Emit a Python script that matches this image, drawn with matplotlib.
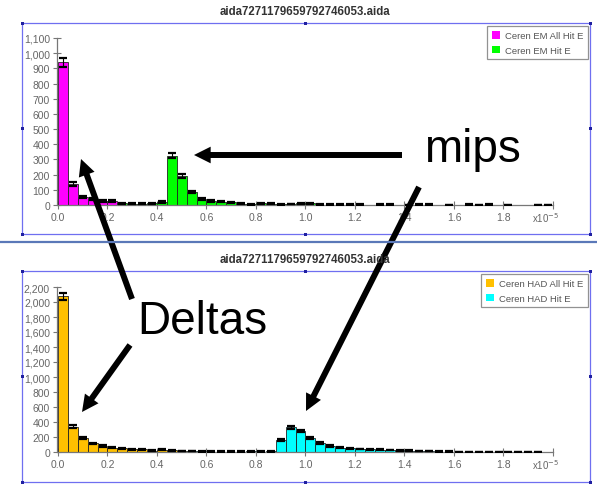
import numpy as np
import matplotlib
matplotlib.use("Agg")
import matplotlib.pyplot as plt
from matplotlib.patches import Rectangle, FancyArrowPatch, ArrowStyle
from matplotlib.lines import Line2D
from matplotlib.ticker import FuncFormatter

plt.rcParams['font.family'] = ['Liberation Sans', 'DejaVu Sans']

# histogram data: 50 bins of width 0.04 (x10^-5) from 0 to 2
bin_width = 0.04
title = "aida7271179659792746053.aida"

em_all_label = "Ceren EM All Hit E"
em_hit_label = "Ceren EM Hit E"
em_all = [940, 140, 55, 42, 28, 25] + [0] * 44
em_hit = [0, 0, 0, 0, 0, 0, 12, 8, 8, 10,
          20, 325, 192, 85, 40, 25, 22, 18, 8, 4,
          10, 8, 4, 6, 10, 12, 3, 2, 3, 3,
          2, 0, 2, 2, 0, 1, 2, 2, 0, 1,
          0, 2, 1, 2, 0, 1, 0, 0, 1, 1]

had_all_label = "Ceren HAD All Hit E"
had_hit_label = "Ceren HAD Hit E"
had_all = [2075, 340, 190, 114, 82, 60, 50, 38, 36, 18,
           32, 22, 14] + [0] * 37
had_hit = [0] * 13 + [10, 8, 6, 5, 5, 6, 8, 6, 8,
                      155, 328, 282, 190, 122, 80, 58, 48, 40, 36,
                      31, 27, 22, 18, 14, 10, 6, 5, 4, 3,
                      3, 2, 2, 2, 1, 2, 1, 0]

W, H = 597, 485
fig = plt.figure(figsize=(W / 100, H / 100), dpi=100)


def fx(x):
    return x / W


def fy(y):
    return 1 - y / H


def draw_panel(top_px, bottom_px, ymax, ystep, series, box):
    ax = fig.add_axes([fx(57), fy(bottom_px), fx(553) - fx(57), fy(top_px) - fy(bottom_px)])
    edges = np.arange(50) * bin_width
    handles = []
    for values, color, label in series:
        values = np.array(values, dtype=float)
        b = ax.bar(edges, values, width=bin_width, align='edge', color=color,
                   edgecolor='#222222', linewidth=0.6, label=label, zorder=2)
        mask = values > 0
        ax.errorbar(edges[mask] + bin_width / 2, values[mask], yerr=np.sqrt(values[mask]),
                    fmt='none', ecolor='black', elinewidth=0.8, capsize=3, capthick=1.6, zorder=3)
        handles.append(b)
    ax.set_xlim(-0.004, 2.0)
    ax.set_ylim(0, ymax)
    ax.set_xticks(np.arange(0, 2.01, 0.2))
    ax.set_yticks(np.arange(0, ymax + 1, ystep))
    ax.xaxis.set_major_formatter(FuncFormatter(lambda v, p: "" if v > 1.9 else f"{v:.1f}"))
    ax.yaxis.set_major_formatter(FuncFormatter(lambda v, p: f"{int(v):,}"))
    for s in ['top', 'right']:
        ax.spines[s].set_visible(False)
    for s in ['left', 'bottom']:
        ax.spines[s].set_color('#777777')
        ax.spines[s].set_linewidth(0.9)
    ax.spines['bottom'].set_bounds(0, 2.0)
    ax.tick_params(axis='both', direction='inout', length=6, width=0.8, color='#777777',
                   labelsize=7.5, labelcolor='#666666', pad=2)
    ax.patch.set_alpha(0)
    ax.text(1.012, -0.072, r"x10$^{-5}$", transform=ax.transAxes, fontsize=7,
            color='#666666', ha='right', va='center')
    leg = ax.legend(handles=handles, loc='upper right', bbox_to_anchor=(fx(588), fy(box[1] + 3)),
                    bbox_transform=fig.transFigure, fontsize=6.8, frameon=True, fancybox=False,
                    handlelength=0.9, handleheight=0.9, handletextpad=0.5, borderpad=0.5,
                    labelspacing=0.6, borderaxespad=0)
    leg.get_frame().set_edgecolor('#777777')
    leg.get_frame().set_linewidth(0.9)
    for t in leg.get_texts():
        t.set_color('#555555')
    for p in leg.get_patches():
        p.set_edgecolor('none')

    # selection box with handles
    x0, y0, x1, y1 = box
    fig.add_artist(Rectangle((fx(x0), fy(y1)), fx(x1) - fx(x0), fy(y0) - fy(y1),
                             transform=fig.transFigure, fill=False,
                             edgecolor='#6f6ff0', linewidth=0.9))
    xm, ym = 305, (y0 + y1) / 2
    for hx, hy in [(x0, y0), (xm, y0), (x1, y0), (x0, ym), (x1, ym),
                   (x0, y1), (xm, y1), (x1, y1)]:
        fig.add_artist(Rectangle((fx(hx - 1.5), fy(hy + 1.5)), 3 / W, 3 / H,
                                 transform=fig.transFigure, color='#2020a0', lw=0))
    return ax


draw_panel(39, 206, 1100, 100,
           [(em_all, '#ff00ff', em_all_label), (em_hit, '#00ff00', em_hit_label)],
           (22, 24, 590, 235))
fig.text(fx(305), fy(12), title, fontsize=8.3, fontweight='bold', color='#333333',
         ha='center', va='center')

draw_panel(288, 453, 2200, 200,
           [(had_all, '#ffc000', had_all_label), (had_hit, '#00ffff', had_hit_label)],
           (22, 272, 590, 483))
fig.text(fx(305), fy(260), title, fontsize=8.3, fontweight='bold', color='#333333',
         ha='center', va='center')

# separator between the two panels
fig.add_artist(Line2D([0, 1], [fy(243), fy(243)], transform=fig.transFigure,
                      color='#5a78b8', linewidth=1.6))

# annotations
fig.text(fx(472), fy(150), "mips", fontsize=33, ha='center', va='center', color='black')
fig.text(fx(202), fy(322), "Deltas", fontsize=33, ha='center', va='center', color='black')

style = ArrowStyle("simple", head_length=1.2, head_width=1.2, tail_width=0.43)
arrows = [((402, 156), (194, 156)),
          ((419, 188), (306, 412)),
          ((132, 300), (81, 160)),
          ((130, 346), (82, 413))]
for (xa, ya), (xb, yb) in arrows:
    fig.add_artist(FancyArrowPatch((fx(xa), fy(ya)), (fx(xb), fy(yb)),
                                   transform=fig.transFigure, arrowstyle=style,
                                   mutation_scale=10, color='black', lw=0,
                                   shrinkA=0, shrinkB=0))

fig.savefig("out.png", dpi=100)
